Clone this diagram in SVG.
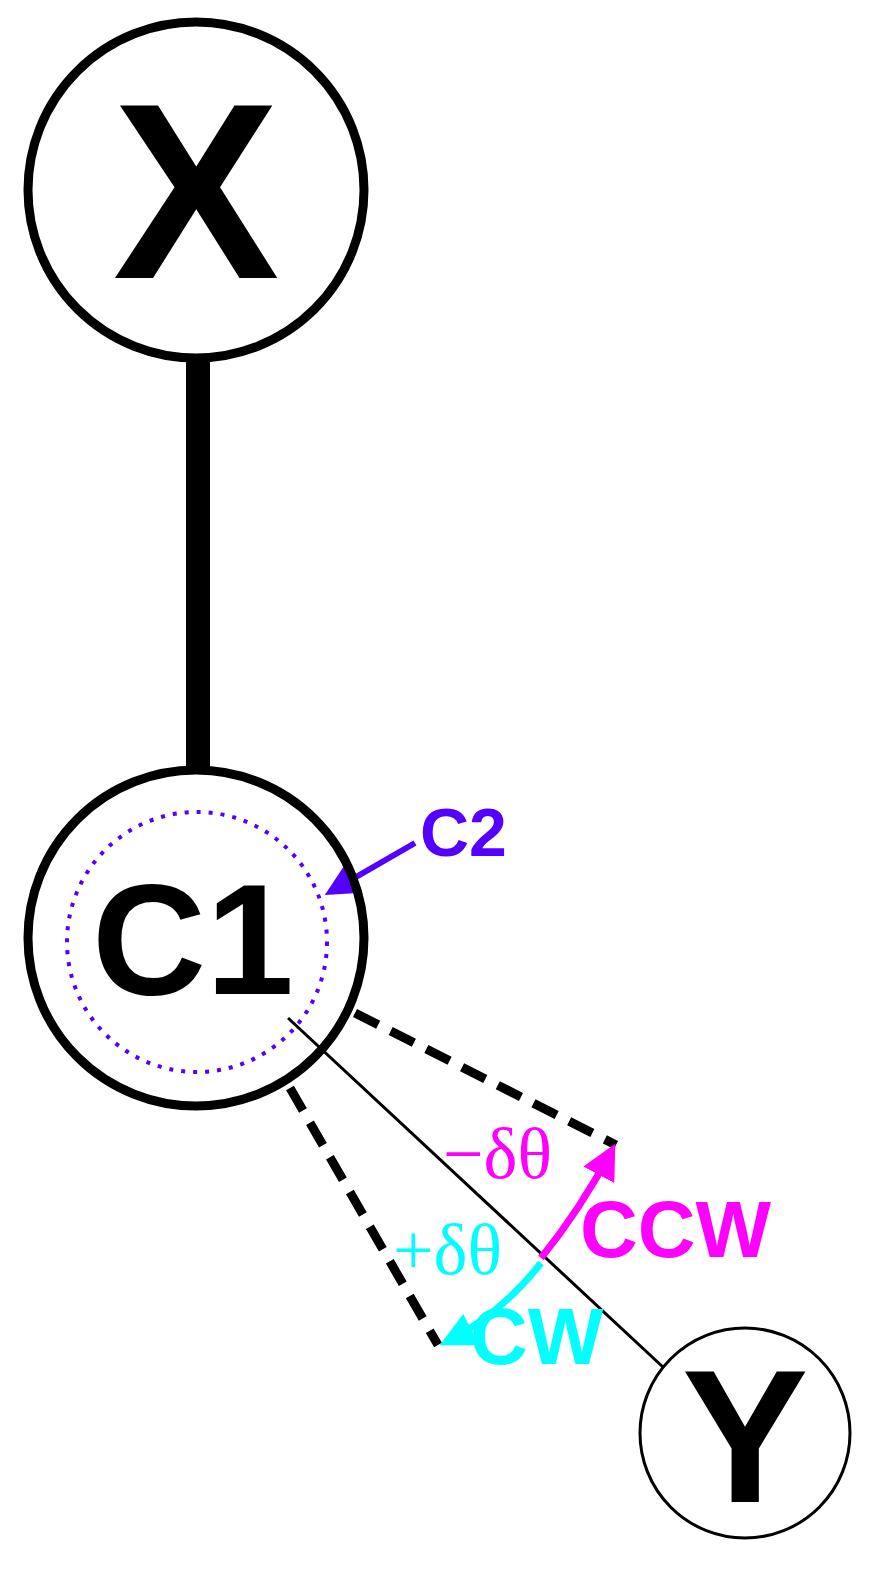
<svg xmlns="http://www.w3.org/2000/svg" width="884" height="1590" viewBox="0 0 884 1590">
<style>
.b{font-family:"Liberation Sans",Arial,sans-serif;font-weight:bold}
.s{font-family:"Liberation Serif","Times New Roman",serif}
</style>
<defs>
<marker id="mp" viewBox="0 0 10 10" refX="8" refY="5" markerWidth="5" markerHeight="5" orient="auto"><path d="M0,0L10,5L0,10z" fill="#ff00ff"/></marker>
<marker id="mc" viewBox="0 0 10 10" refX="8" refY="5" markerWidth="5" markerHeight="5" orient="auto"><path d="M0,0L10,5L0,10z" fill="#00ffff"/></marker>
<marker id="mv" viewBox="0 0 10 10" refX="8" refY="5" markerWidth="5" markerHeight="5" orient="auto"><path d="M0,0L10,5L0,10z" fill="#5500ff"/></marker>
</defs>
<rect width="884" height="1590" fill="#fff"/>
<g id="connectors" fill="none">
<line x1="198" y1="350" x2="198" y2="772" stroke="#000" stroke-width="24"/>
<line x1="288" y1="1018" x2="664" y2="1368" stroke="#000" stroke-width="3"/>
<line x1="355" y1="1013" x2="616" y2="1145" stroke="#000" stroke-width="9" stroke-dasharray="26,14"/>
<line x1="290" y1="1088" x2="438" y2="1345" stroke="#000" stroke-width="9" stroke-dasharray="26,14"/>
<path d="M541,1258 Q580,1210 612,1150" stroke="#ff00ff" stroke-width="7" marker-end="url(#mp)"/>
<path d="M541,1263 Q500,1315 446,1342" stroke="#00ffff" stroke-width="7" marker-end="url(#mc)"/>
<line x1="415" y1="843" x2="330" y2="892" stroke="#5500ff" stroke-width="6" marker-end="url(#mv)"/>
</g>
<g id="X"><circle cx="196" cy="190" r="168" fill="#fff" stroke="#000" stroke-width="9"/><text x="196" y="278" class="b" font-size="250" text-anchor="middle">X</text></g>
<g id="C1"><circle cx="196" cy="938" r="168" fill="none" stroke="#000" stroke-width="9"/><text x="193" y="994" class="b" font-size="158" text-anchor="middle">C1</text></g>
<g id="C2"><circle cx="197" cy="942" r="130" fill="none" stroke="#5500ff" stroke-width="4" stroke-dasharray="4,8"/><text x="420" y="856" class="b" font-size="68" fill="#5500ff">C2</text></g>
<g id="Y"><circle cx="745" cy="1433" r="105" fill="#fff" stroke="#000" stroke-width="3"/><text x="745" y="1502" class="b" font-size="190" text-anchor="middle">Y</text></g>
<g id="labels">
<text x="443" y="1178" class="s" font-size="72" fill="#ff00ff">−δθ</text>
<text x="580" y="1257" class="b" font-size="80" fill="#ff00ff">CCW</text>
<text x="393" y="1274" class="s" font-size="72" fill="#00ffff">+δθ</text>
<text x="470" y="1364" class="b" font-size="80" fill="#00ffff">CW</text>
</g>
</svg>
